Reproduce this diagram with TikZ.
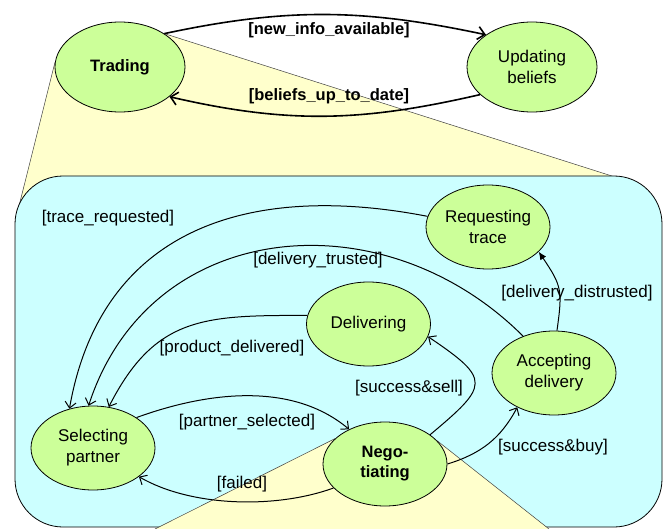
\documentclass[tikz,border=0pt]{standalone}
\usepackage{fontspec}
\setmainfont{Liberation Sans}
\usetikzlibrary{shapes.geometric,arrows.meta,backgrounds}
\definecolor{stategreen}{RGB}{204,255,153}
\definecolor{boxcyan}{RGB}{204,255,255}
\definecolor{wedgeyellow}{RGB}{255,255,204}
\tikzset{
  statenode/.style={ellipse, draw, fill=stategreen, line width=0.8pt, minimum width=124pt, minimum height=84pt, inner sep=0pt, align=center, font=\fontsize{17}{21}\selectfont},
  bigstate/.style={statenode, minimum width=130pt, minimum height=90pt},
  boldstate/.style={font=\fontsize{16.5}{20}\selectfont\bfseries},
  guard/.style={inner sep=0pt, font=\fontsize{17}{20}\selectfont},
  topguard/.style={inner sep=0pt, font=\fontsize{16.5}{20}\selectfont\bfseries},
  trans/.style={line width=1pt, -{Straight Barb[length=6pt,width=11pt]}},
  toptrans/.style={line width=1.6pt, -{Straight Barb[length=7pt,width=13pt]}},
  zoomline/.style={draw=black!75, line width=0.5pt},
}
\begin{document}
\begin{tikzpicture}[x=1pt,y=1pt]
\useasboundingbox (0,0) rectangle (671,-529);
\node [bigstate, boldstate] (trading) at (120,-67) {Trading};
\node [bigstate] (updating) at (532,-67) {Updating\\beliefs};
\node [statenode] (reqtrace) at (488,-227) {Requesting\\trace};
\node [statenode] (delivering) at (368.5,-324) {Delivering};
\node [statenode] (accepting) at (554,-373) {Accepting\\delivery};
\node [statenode] (selecting) at (93,-448) {Selecting\\partner};
\node [statenode, boldstate] (nego) at (385,-464) {Nego-\\tiating};
\coordinate (wl) at (18,-210);
\coordinate (wr) at (615,-177);
\coordinate (nl) at (155,-529);
\coordinate (nr) at (549,-529);
\begin{scope}[on background layer]
\fill [wedgeyellow] (trading.176) -- (wl) -- (wr) -- (trading.37) -- cycle;
\draw [zoomline] (trading.176) -- (wl);
\draw [zoomline] (trading.37) -- (wr);
\draw [fill=boxcyan, rounded corners=48pt, line width=0.8pt] (15,-176) rectangle (662,-527);
\fill [wedgeyellow] (nego.153) -- (nl) -- (nr) -- (nego.24) -- cycle;
\draw [zoomline] (nego.153) -- (nl);
\draw [zoomline] (nego.24) -- (nr);
\end{scope}
\draw [toptrans] (trading.37) to [out=12,in=168] (updating.145);
\draw [toptrans] (updating.208) to [out=193,in=-13] (trading.-31);
\node [topguard] (newinfo) at (329,-30) {[new\_info\_available]};
\node [topguard] (uptodate) at (329,-96) {[beliefs\_up\_to\_date]};
\draw [trans] (reqtrace.170) to [out=169,in=80,looseness=1.15] (selecting.121);
\draw [trans] (accepting.130) to [out=135,in=72,looseness=1.15] (selecting.96);
\draw [trans] (delivering.172) to [out=180,in=63,looseness=1.2] (selecting.69);
\draw [trans] (selecting.35) to [out=20,in=140,looseness=0.9] (nego.136);
\draw [trans] (nego.205) to [out=200,in=-30,looseness=0.8] (selecting.-32);
\draw [trans] (nego.33) to [out=40,in=-34,looseness=2] (delivering.-12);
\draw [trans] (nego.0) to [out=17,in=-118] (accepting.223);
\draw [line width=1pt, -{Latex[length=8pt,width=7pt]}] (accepting.86) to [out=82,in=-56,looseness=1.3] (reqtrace.-26);
\node [guard] (tracereq) at (108,-218) {[trace\_requested]};
\node [guard] (trusted) at (318,-260) {[delivery\_trusted]};
\node [guard] (delivered) at (232,-348) {[product\_delivered]};
\node [guard] (selected) at (247,-422) {[partner\_selected]};
\node [guard] (failed) at (242,-484) {[failed]};
\node [guard] (sell) at (409,-388) {[success\&sell]};
\node [guard] (buy) at (553,-447) {[success\&buy]};
\node [guard] (distrusted) at (577,-293) {[delivery\_distrusted]};
\end{tikzpicture}
\end{document}
